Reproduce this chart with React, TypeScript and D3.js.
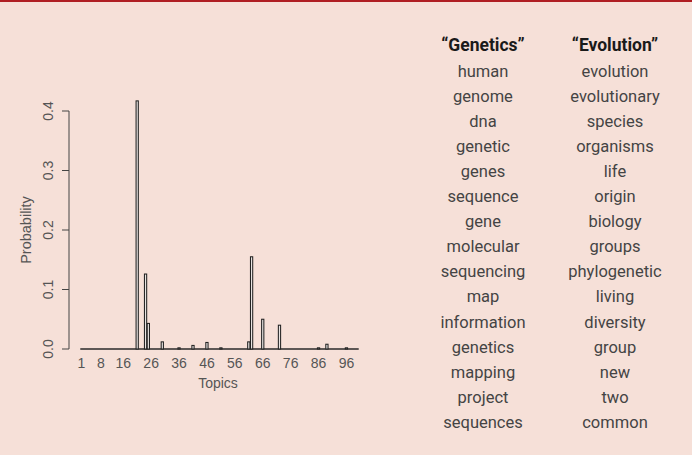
import React from "react";
import * as d3 from "d3";

const topics: number[] = d3.range(1, 101);
// non-zero topic probabilities (topic -> probability); all others are 0
const peakTopics = [21, 24, 25, 30, 36, 41, 46, 51, 61, 62, 66, 72, 86, 89, 96];
const peakValues = [0.417, 0.126, 0.043, 0.012, 0.002, 0.006, 0.011, 0.002, 0.012, 0.155, 0.05, 0.04, 0.002, 0.008, 0.002];
const xTickTopics = [1, 8, 16, 26, 36, 46, 56, 66, 76, 86, 96];
const yTicks = [0, 0.1, 0.2, 0.3, 0.4];
const geneticsWords = ["human", "genome", "dna", "genetic", "genes", "sequence", "gene", "molecular", "sequencing", "map", "information", "genetics", "mapping", "project", "sequences"];
const evolutionWords = ["evolution", "evolutionary", "species", "organisms", "life", "origin", "biology", "groups", "phylogenetic", "living", "diversity", "group", "new", "two", "common"];
const headers = ["\u201CGenetics\u201D", "\u201CEvolution\u201D"];

const W = 692;
const H = 455;
const BG = "#f6e0d8";

export default function App() {
  const values = topics.map((t) => {
    const i = peakTopics.indexOf(t);
    return i >= 0 ? peakValues[i] : 0;
  });
  const x = d3.scaleBand<number>().domain(topics).range([80, 359]).paddingInner(0.2).paddingOuter(0.1);
  const y = d3.scaleLinear().domain([0, 0.4]).range([349, 111]);
  const axisFont = "'Liberation Sans', Arial, sans-serif";
  const listFont = "Roboto, 'Liberation Sans', sans-serif";
  const col = d3.scaleOrdinal<number, number>().domain([0, 1]).range([483, 615]);
  const rowY = (i: number) => 76.5 + i * 25.1;

  return (
    <div style={{ position: "absolute", left: 0, top: 0 }}>
      <svg width={W} height={H} style={{ display: "block" }}>
        <rect x={0} y={0} width={W} height={H} fill={BG} />
        <rect x={0} y={0} width={W} height={2} fill="#b01e23" />

        {/* baseline formed by zero-height bars */}
        <line x1={x(1)!} x2={x(100)! + x.bandwidth()} y1={y(0)} y2={y(0)} stroke="#2a2a2a" strokeWidth={1.3} />

        {topics.map((t, i) =>
          values[i] > 0 ? (
            <rect
              key={t}
              x={x(t)!}
              y={y(values[i])}
              width={x.bandwidth()}
              height={y(0) - y(values[i])}
              fill="#e8e4e2"
              stroke="#222"
              strokeWidth={1.05}
            />
          ) : null
        )}

        {/* y axis */}
        <line x1={69} x2={69} y1={y(0)} y2={y(0.4)} stroke="#444" strokeWidth={1} />
        {yTicks.map((v) => (
          <g key={v}>
            <line x1={62} x2={69} y1={y(v)} y2={y(v)} stroke="#444" strokeWidth={1} />
            <text
              transform={`translate(53,${y(v)}) rotate(-90)`}
              textAnchor="middle"
              fontFamily={axisFont}
              fontSize={14}
              fill="#555"
            >
              {v.toFixed(1)}
            </text>
          </g>
        ))}
        <text
          transform={`translate(31,230) rotate(-90)`}
          textAnchor="middle"
          fontFamily={axisFont}
          fontSize={14.5}
          fill="#555"
        >
          Probability
        </text>

        {/* x labels */}
        {xTickTopics.map((t) => (
          <text
            key={t}
            x={x(t)! + x.bandwidth() / 2}
            y={368}
            textAnchor="middle"
            fontFamily={axisFont}
            fontSize={14}
            fill="#555"
          >
            {t}
          </text>
        ))}
        <text x={218} y={388} textAnchor="middle" fontFamily={axisFont} fontSize={14} fill="#555">
          Topics
        </text>

        {/* word lists */}
        {headers.map((h, c) => (
          <text key={h} x={col(c)} y={51} textAnchor="middle" fontFamily={listFont} fontWeight="bold" fontSize={17.5} fill="#1a1a1a">
            {h}
          </text>
        ))}
        {[geneticsWords, evolutionWords].map((words, c) =>
          words.map((w, i) => (
            <text key={c + w} x={col(c)} y={rowY(i)} textAnchor="middle" fontFamily={listFont} fontSize={16.5} fill="#444">
              {w}
            </text>
          ))
        )}
      </svg>
    </div>
  );
}
